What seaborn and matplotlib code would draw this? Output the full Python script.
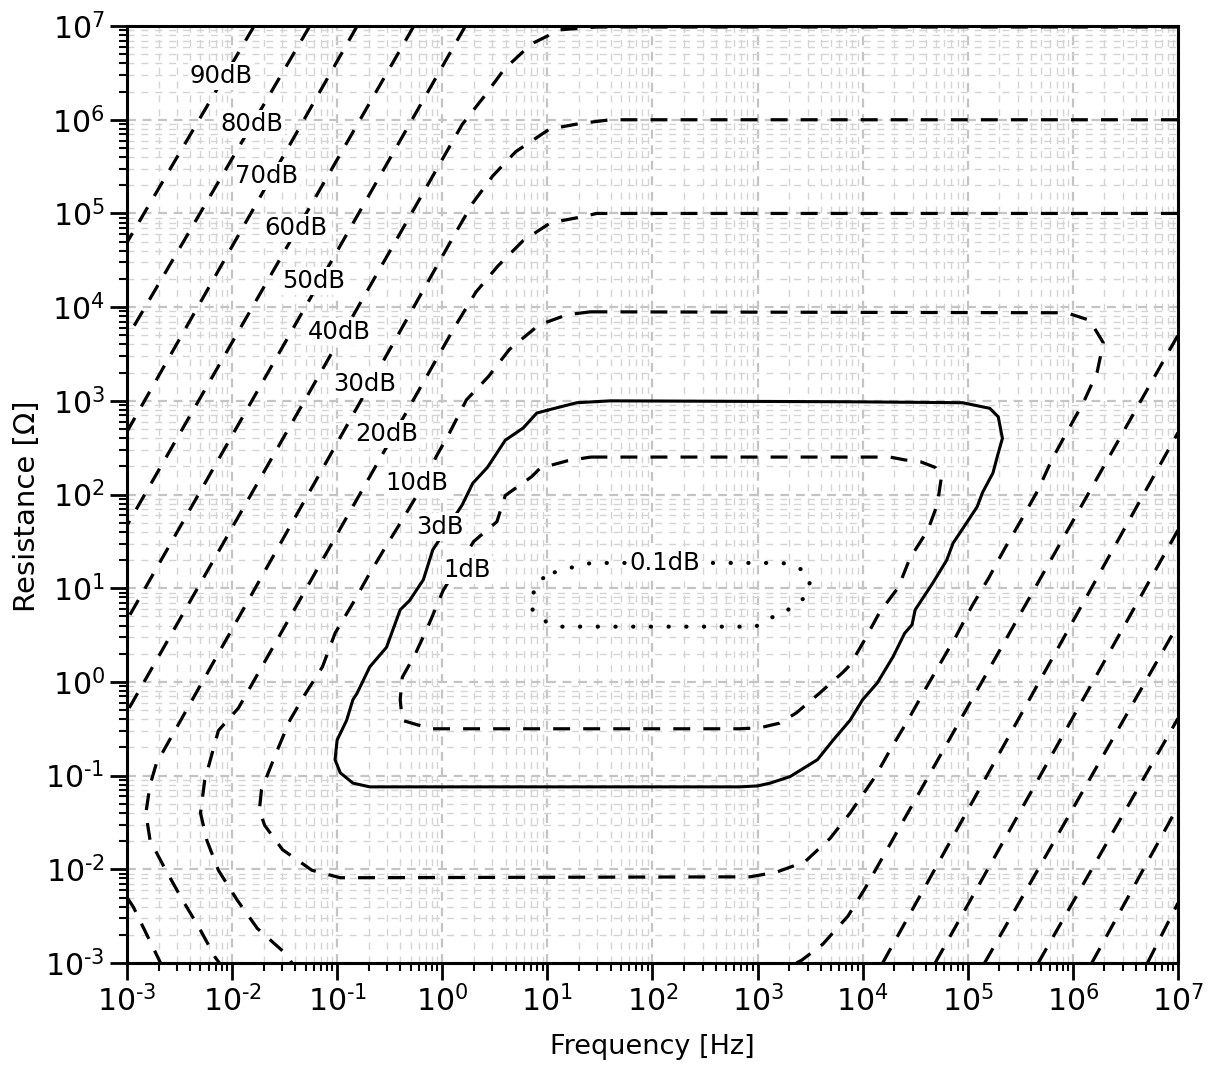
"""
Measurement error contours over frequency and resistance (log-log)
"""

import numpy as np
import matplotlib
matplotlib.use('Agg')
import matplotlib.pyplot as plt
from matplotlib.ticker import LogLocator, NullFormatter, FuncFormatter
import seaborn as sns

sns.set_theme(style='white')
plt.rcParams['font.family'] = ['DejaVu Sans']
plt.rcParams['text.color'] = 'black'
plt.rcParams['axes.labelcolor'] = 'black'

# ─── Contour data: exponents, log10 f [Hz] and log10 R [Ohm] ─────────
# 0.1 dB (closed loop)
c01_logf = [1.07, 1.26, 1.42, 2.45, 3.24, 3.42, 3.50, 3.45, 3.29, 3.14, 2.98,
            1.50, 1.14, 1.00, 0.86, 0.85, 0.93, 1.07]
c01_logR = [1.17, 1.23, 1.27, 1.27, 1.27, 1.20, 1.07, 0.90, 0.77, 0.69, 0.59,
            0.59, 0.59, 0.63, 0.77, 0.91, 1.09, 1.17]

# 1 dB (closed loop)
c1_logf = [1.41, 4.26, 4.40, 4.55, 4.69, 4.75, 4.71, 4.62, 4.45, 4.34, 4.16,
           4.02, 3.88, 3.81, 3.59, 3.37, 3.21, 3.02, 2.83, -0.09, -0.23, -0.38,
           -0.40, -0.38, -0.26, -0.14, 0.01, 0.30, 0.52, 0.60, 0.85, 0.93, 1.19, 1.41]
c1_logR = [2.40, 2.40, 2.37, 2.35, 2.29, 2.19, 1.89, 1.62, 1.32, 1.01, 0.74,
           0.45, 0.18, 0.10, -0.12, -0.33, -0.44, -0.49, -0.50, -0.50, -0.46, -0.41,
           -0.19, 0.05, 0.29, 0.58, 0.98, 1.50, 1.71, 1.99, 2.19, 2.28, 2.36, 2.40]

# 3 dB (closed loop, solid)
c3_logf = [1.00, 1.28, 1.60, 3.88, 4.95, 5.21, 5.29, 5.33, 5.28, 5.24,
           5.14, 5.09, 4.99, 4.86, 4.80, 4.67, 4.50, 4.47, 4.40, 4.29,
           4.14, 4.00, 3.88, 3.72, 3.57, 3.31, 3.12, 3.00, 2.83, -0.69,
           -0.85, -0.97, -1.02, -1.00, -0.91, -0.85, -0.81, -0.69, -0.53, -0.40,
           -0.31, -0.18, -0.09, 0.19, 0.29, 0.43, 0.60, 0.77, 0.90, 1.00]
c3_logR = [2.90, 2.98, 3.00, 2.99, 2.98, 2.92, 2.83, 2.60, 2.40, 2.23,
           2.02, 1.87, 1.70, 1.48, 1.30, 1.06, 0.77, 0.61, 0.52, 0.27,
           -0.01, -0.19, -0.41, -0.62, -0.83, -1.01, -1.08, -1.11, -1.12, -1.12,
           -1.08, -0.97, -0.83, -0.62, -0.41, -0.19, -0.12, 0.16, 0.37, 0.77,
           0.87, 1.09, 1.41, 1.89, 2.12, 2.29, 2.58, 2.71, 2.87, 2.90]

# 10 dB (closed loop)
c10_logf = [1.41, 5.94, 6.16, 6.29, 6.23, 6.10, 5.94, 5.80, 5.67, 5.51,
            5.35, 5.20, 5.04, 4.89, 4.74, 4.59, 4.43, 4.26, 4.12, 3.88,
            3.69, 3.45, 3.18, 2.93, -0.97, -1.24, -1.52, -1.69, -1.74, -1.72,
            -1.57, -1.45, -1.31, -1.14, -1.02, -0.85, -0.71, -0.54, -0.38, -0.21,
            -0.06, 0.07, 0.23, 0.44, 0.64, 0.92, 1.19, 1.41]
c10_logR = [3.95, 3.94, 3.86, 3.62, 3.30, 2.98, 2.66, 2.37, 2.05, 1.73,
            1.42, 1.11, 0.81, 0.49, 0.20, -0.09, -0.41, -0.73, -1.01, -1.40,
            -1.67, -1.92, -2.03, -2.08, -2.09, -2.01, -1.79, -1.53, -1.37, -1.15,
            -0.73, -0.41, -0.14, 0.16, 0.52, 0.84, 1.12, 1.44, 1.73, 2.05,
            2.40, 2.66, 3.01, 3.26, 3.55, 3.81, 3.92, 3.95]

# 20 dB
c20a_logf = [7.00, 1.47, 1.31, 1.03, 0.77, 0.53, 0.32, 0.13, -1.94, -2.13,
             -2.26, -2.30, -2.24, -2.13, -1.95, -1.76, -1.50, -1.43]
c20a_logR = [5.00, 5.00, 4.96, 4.90, 4.71, 4.44, 4.16, 3.81, -0.28, -0.52,
             -1.05, -1.40, -1.69, -2.01, -2.33, -2.63, -2.89, -3.00]
c20b_logf = [3.37, 3.42, 3.62, 3.86, 4.03, 7.00]
c20b_logR = [-3.00, -2.97, -2.80, -2.50, -2.19, 3.70]

# 30 dB
c30a_logf = [7.00, 1.60, 1.31, 1.02, 0.70, 0.48, 0.29, 0.12, -2.72, -2.78,
             -2.82, -2.78, -2.64, -2.47, -2.31, -2.16, -2.12]
c30a_logR = [6.00, 6.00, 5.96, 5.90, 5.66, 5.40, 5.11, 4.78, -0.87, -1.10,
             -1.40, -1.69, -1.99, -2.33, -2.63, -2.94, -3.00]
c30b_logf = [4.19, 7.00]
c30b_logR = [-3.00, 2.66]

# 40 dB
c40a_logf = [7.00, 1.47, 1.12, 0.85, 0.59, 0.40, 0.19, -3.00]
c40a_logR = [6.99, 6.99, 6.96, 6.81, 6.54, 6.25, 5.95, -0.32]
c40b_logf = [-3.00, -2.94, -2.81, -2.68]
c40b_logR = [-2.30, -2.40, -2.70, -3.00]
c40c_logf = [4.69, 7.00]
c40c_logR = [-3.00, 1.62]

# 50 .. 90 dB: straight branches (left: top edge -> left edge, right: bottom edge -> right edge)
c50a_logf, c50a_logR = [0.22, -3.00], [7.00, 0.66]
c50b_logf, c50b_logR = [5.16, 7.00], [-3.00, 0.61]
c60a_logf, c60a_logR = [-0.27, -3.00], [7.00, 1.67]
c60b_logf, c60b_logR = [5.67, 7.00], [-3.00, -0.39]
c70a_logf, c70a_logR = [-0.81, -3.00], [7.00, 2.67]
c70b_logf, c70b_logR = [6.18, 7.00], [-3.00, -1.33]
c80a_logf, c80a_logR = [-1.26, -3.00], [7.00, 3.67]
c80b_logf, c80b_logR = [6.71, 7.00], [-3.00, -2.36]
c90a_logf, c90a_logR = [-1.79, -3.00], [7.00, 4.69]

# contour labels and where they sit (log10 f, log10 R)
label_text = ['90dB', '80dB', '70dB', '60dB', '50dB', '40dB', '30dB',
              '20dB', '10dB', '3dB', '1dB', '0.1dB']
label_logf = [-2.10, -1.81, -1.67, -1.39, -1.22, -0.98, -0.74,
              -0.53, -0.24, -0.02, 0.24, 2.12]
label_logR = [6.47, 5.95, 5.40, 4.84, 4.28, 3.74, 3.18,
              2.65, 2.12, 1.65, 1.19, 1.27]

decades = list(range(-3, 8))

# ─── Styles ─────────────────────────────────────────────────
DASHED = dict(color='black', lw=2.3, linestyle=(0, (5.3, 4.1)))
SOLID = dict(color='black', lw=2.2, linestyle='-')
DOTTED = dict(color='black', lw=3.0, linestyle=(0, (0.05, 4.2)),
              dash_capstyle='round')

paths = [
    (c01_logf, c01_logR, DOTTED),
    (c1_logf, c1_logR, DASHED),
    (c3_logf, c3_logR, SOLID),
    (c10_logf, c10_logR, DASHED),
    (c20a_logf, c20a_logR, DASHED), (c20b_logf, c20b_logR, DASHED),
    (c30a_logf, c30a_logR, DASHED), (c30b_logf, c30b_logR, DASHED),
    (c40a_logf, c40a_logR, DASHED), (c40b_logf, c40b_logR, DASHED),
    (c40c_logf, c40c_logR, DASHED),
    (c50a_logf, c50a_logR, DASHED), (c50b_logf, c50b_logR, DASHED),
    (c60a_logf, c60a_logR, DASHED), (c60b_logf, c60b_logR, DASHED),
    (c70a_logf, c70a_logR, DASHED), (c70b_logf, c70b_logR, DASHED),
    (c80a_logf, c80a_logR, DASHED), (c80b_logf, c80b_logR, DASHED),
    (c90a_logf, c90a_logR, DASHED),
]


def pow10_label(v, pos):
    # short hyphen in the exponent, like the original axis labels
    e = int(round(np.log10(v)))
    s = str(e).replace('-', '\u2010')
    return '$10^{%s}$' % s


# ─── Figure ─────────────────────────────────────────────────
fig = plt.figure(figsize=(12.09, 10.68), dpi=100)
ax = fig.add_axes([0.1050, 0.0983, 0.8693, 0.8773])
ax.set_xscale('log')
ax.set_yscale('log')

for lf, lr, style in paths:
    sns.lineplot(x=10 ** np.array(lf), y=10 ** np.array(lr), sort=False,
                 estimator=None, ax=ax, zorder=3, **style)

for txt, lf, lr in zip(label_text, label_logf, label_logR):
    ax.text(10 ** lf, 10 ** lr, txt, fontsize=17.5, ha='center', va='center',
            color='black', zorder=5,
            bbox=dict(boxstyle='square,pad=0.08', fc='white', ec='none'))

ax.set_xticks([10.0 ** k for k in decades])
ax.set_yticks([10.0 ** k for k in decades])
for axis in (ax.xaxis, ax.yaxis):
    axis.set_major_formatter(FuncFormatter(pow10_label))
    axis.set_minor_locator(LogLocator(base=10, subs=np.arange(2, 10), numticks=300))
    axis.set_minor_formatter(NullFormatter())
ax.set_xlim(1e-3, 1e7)
ax.set_ylim(1e-3, 1e7)

ax.tick_params(which='major', direction='out', length=12, width=2,
               labelsize=21.5, pad=4, colors='black', bottom=True, left=True)
ax.tick_params(which='minor', direction='out', length=6, width=1.5,
               colors='black', bottom=True, left=True)

ax.grid(which='major', color='#c4c4c4', lw=1.6, linestyle=(0, (4, 3)))
ax.grid(which='minor', color='#d4d4d4', lw=1.0, linestyle=(0, (5, 5)))
ax.set_axisbelow(True)

for sp in ax.spines.values():
    sp.set_color('black')
    sp.set_linewidth(2.2)

ax.set_xlabel('Frequency [Hz]', fontsize=19.5, labelpad=12, color='black')
ax.set_ylabel('Resistance [Ω]', fontsize=21, color='black')
ax.yaxis.set_label_coords(-0.082, 0.487)

plt.savefig('out.png', dpi=100)
plt.close()
